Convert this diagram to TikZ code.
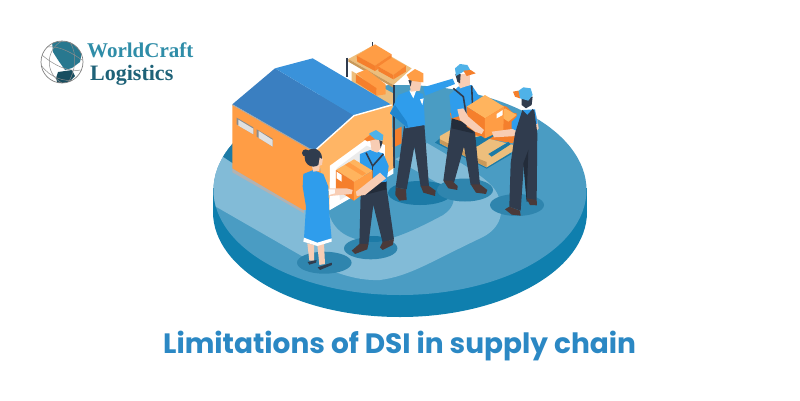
\documentclass[tikz,border=0pt]{standalone}
\usepackage{fontspec}
\newfontfamily\logofont{Liberation Serif}
\newfontfamily\titlefont[BoldFont={* Bold}]{Poppins}
\definecolor{rim}{HTML}{0F7FAE}
\definecolor{surf}{HTML}{4A9CC3}
\definecolor{road}{HTML}{82BBD7}
\definecolor{shad}{HTML}{2F85AE}
\definecolor{shadd}{HTML}{1C7AA6}
\definecolor{oL}{HTML}{FF9D45}
\definecolor{oD}{HTML}{F57F2C}
\definecolor{oT}{HTML}{FFB45E}
\definecolor{oW}{HTML}{FFB565}
\definecolor{roofD}{HTML}{3A7FC1}
\definecolor{roofL}{HTML}{3A92DA}
\definecolor{shirt}{HTML}{2F9DEC}
\definecolor{shirtD}{HTML}{2186CF}
\definecolor{pants}{HTML}{303C4E}
\definecolor{pantsD}{HTML}{232C3A}
\definecolor{skin}{HTML}{F8CDB4}
\definecolor{shoe}{HTML}{4A3A3A}
\definecolor{tan}{HTML}{EDBE7C}
\definecolor{tanD}{HTML}{C9995A}
\definecolor{capb}{HTML}{4FB2E8}
\definecolor{ttl}{HTML}{2B88C4}
\definecolor{logoA}{HTML}{2F8DA8}
\definecolor{logoB}{HTML}{1E6278}
\tikzset{zm/.style 2 args={shift={(#1,#2)},x=0.3333pt,y=-0.3333pt}}
\begin{document}
\begin{tikzpicture}[x=1pt,y=-1pt]
\useasboundingbox (0,0) rectangle (800,400);
\fill[white] (0,0) rectangle (800,400);
% platform
\fill[rim] (400,212) ellipse [x radius=187,y radius=105];
\fill[rim] (213,188) rectangle (587,212);
\fill[surf] (400,190) ellipse [x radius=186.5,y radius=105];
% road
\begin{scope}
\clip (400,190) ellipse [x radius=186.5,y radius=105];
\fill[road] (213,150) -- (213,205) -- (300,255) .. controls (330,272) and (355,281) .. (380,280)
  .. controls (410,276) and (430,262) .. (483,237) .. controls (500,228) and (506,212) .. (497,193)
  .. controls (490,180) and (470,168) .. (427,143) -- (380,120) -- cycle;
\fill[surf] (330,190) -- (328,207) .. controls (329,222) and (340,240) .. (370,241)
  .. controls (385,241) and (400,238) .. (443,215) .. controls (455,207) and (456,197) .. (450,190)
  -- (393,158) -- (370,160) -- cycle;
\fill[surf] (400,100) -- (427,143) -- (393,160) -- (385,130) -- cycle;
\fill[shadd] (213,135) -- (240,135) -- (240,168) -- (222,156) -- cycle;
\end{scope}
% floor shadows
\fill[shad] (324.3,262.7) ellipse [x radius=27.3,y radius=11];
\fill[shad] (370.7,248.3) ellipse [x radius=26.7,y radius=11];
\fill[shadd] (420,193) ellipse [x radius=32,y radius=12];
\fill[shad] (465,190) ellipse [x radius=28,y radius=11.5];
\fill[shad] (517,205) ellipse [x radius=27,y radius=11];
% shelf
\begin{scope}[zm={220}{35}]
\fill[tan] (385,72) -- (458,32) -- (575,100) -- (520,150) -- cycle;
\fill[tanD] (385,72) -- (520,150) -- (520,158) -- (385,80) -- cycle;
\fill[tan] (395,108) -- (520,175) -- (520,240) -- (395,170) -- cycle;
\draw[pants,line width=1.8pt] (380,68) -- (380,125);
\draw[pants,line width=1.5pt] (458,22) -- (458,40);
\fill[oL] (410,115) -- (440,103) -- (497,148) -- (470,165) -- cycle;
\fill[oD] (408,118) -- (470,160) -- (470,182) -- (408,142) -- cycle;
\fill[oL] (470,160) -- (497,148) -- (497,178) -- (470,182) -- cycle;
\fill[oL] (410,62) -- (465,28) -- (515,58) -- (465,92) -- cycle;
\fill[oD] (410,62) -- (465,92) -- (465,108) -- (412,80) -- cycle;
\fill[oD!80!oL] (465,92) -- (515,58) -- (515,75) -- (465,108) -- cycle;
\fill[oL] (475,95) -- (515,68) -- (558,92) -- (520,120) -- cycle;
\fill[oD] (475,95) -- (520,120) -- (520,133) -- (475,108) -- cycle;
\fill[oD!80!oL] (520,120) -- (558,92) -- (558,110) -- (520,133) -- cycle;
\fill[oD] (525,285) -- (545,275) -- (545,325) -- (525,335) -- cycle;
\draw[pants,line width=1.6pt] (522,150) -- (522,400);
% building
\fill[black!30] (37,400) -- (37,412) -- (252,535) -- (252,525) -- cycle;
\fill[oL] (37,210) -- (268,342) -- (290,345) -- (325,525) -- (250,525) -- (37,400) -- cycle;
\fill[oW] (290,342) -- (400,242) -- (515,210) -- (520,402) -- (325,525) -- cycle;
\fill[white] (330,392) -- (440,312) -- (495,330) -- (495,418) -- (520,400) -- (520,416) -- (328,526) -- cycle;
\fill[white!92!black] (350,400) -- (440,332) -- (480,350) -- (480,425) -- (360,495) -- cycle;
\fill[roofD] (37,208) -- (165,100) -- (400,240) -- (290,342) -- (268,340) -- cycle;
\fill[roofL] (165,100) -- (278,70) -- (512,208) -- (400,240) -- cycle;
\draw[white,line width=1.4pt] (290,342) -- (402,242) -- (515,210);
\draw[black!35,line width=.9pt] (37,209) -- (268,341);
\fill[black!45] (50,248) -- (100,277) -- (100,298) -- (50,268) -- cycle;
\fill[white!88!black] (55,254) -- (100,281) -- (100,298) -- (55,272) -- cycle;
\fill[black!45] (110,283) -- (158,311) -- (158,335) -- (110,305) -- cycle;
\fill[white!88!black] (116,288) -- (158,315) -- (158,335) -- (116,309) -- cycle;
\end{scope}
% pallet and boxes, worker 2, 3, 4 (zoom 3 coords)
\begin{scope}[zm={380}{50}]
\fill[shadd] (165,278) -- (320,356) -- (395,312) -- (385,295) -- (320,335) -- (180,265) -- cycle;
\fill[oD] (210,190) -- (300,150) -- (380,170) -- (410,200) -- (400,280) -- (225,250) -- cycle;
\fill[tan] (180,258) -- (215,238) -- (400,285) -- (402,302) -- (320,352) -- (300,342) -- (180,280) -- cycle;
\fill[tanD] (180,268) -- (300,328) -- (320,336) -- (320,352) -- (300,342) -- (180,280) -- cycle;
\fill[shadd] (245,272) -- (335,250) -- (345,256) -- (290,290) -- cycle;
\fill[shadd] (325,312) -- (385,276) -- (392,283) -- (335,320) -- cycle;
\fill[oD] (350,180) -- (410,190) -- (405,275) -- (340,240) -- cycle;
\fill[oT] (375,175) -- (410,195) -- (385,215) -- (355,195) -- cycle;
% worker 3
\fill[pants] (215,210) -- (283,225) -- (300,405) -- (272,405) -- (252,290) -- (222,398) -- (190,392) -- cycle;
\fill[pantsD] (215,205) -- (280,225) -- (280,250) -- (215,235) -- cycle;
\fill[shoe] (190,392) -- (215,392) -- (233,408) -- (232,420) -- (205,415) -- cycle;
\fill[shoe] (272,403) -- (300,403) -- (322,420) -- (318,432) -- (288,428) -- cycle;
\fill[shirt] (208,135) -- (235,110) -- (275,105) -- (298,140) -- (300,170) -- (265,190) -- (215,205) -- cycle;
\draw[pants,line width=1.6pt] (220,115) -- (250,140) -- (258,190);
\draw[pants,line width=1.6pt] (275,107) -- (278,175);
\fill[skin] (226,75) -- (270,70) -- (270,105) -- (240,115) -- cycle;
\fill[pants] (226,72) -- (242,72) -- (240,100) -- (232,95) -- cycle;
\fill[capb] (225,55) -- (240,42) -- (262,45) -- (272,62) -- (250,65) -- (228,78) -- cycle;
\fill[oD] (250,62) -- (272,60) -- (287,70) -- (260,78) -- cycle;
% box 3
\fill[oT] (260,170) -- (315,135) -- (372,170) -- (315,205) -- cycle;
\fill[oD] (260,170) -- (315,205) -- (315,265) -- (260,230) -- cycle;
\fill[oL] (315,205) -- (372,170) -- (370,240) -- (315,265) -- cycle;
\fill[white] (350,192) -- (368,180) -- (368,195) -- (350,205) -- cycle;
\fill[skin] (232,178) -- (250,175) -- (265,200) -- (312,240) -- (305,252) -- (285,245) -- (240,210) -- cycle;
% worker 2
\fill[pants] (72,228) -- (133,222) -- (147,410) -- (122,410) -- (103,290) -- (80,418) -- (47,412) -- cycle;
\fill[shoe] (47,412) -- (78,418) -- (80,450) -- (58,452) -- (46,435) -- cycle;
\fill[shoe] (122,408) -- (147,408) -- (167,422) -- (165,438) -- (130,428) -- cycle;
\fill[shirt] (130,112) -- (218,86) -- (225,102) -- (135,137) -- cycle;
\fill[shirt] (30,190) -- (55,135) -- (90,122) -- (130,132) -- (135,225) -- (75,235) -- (72,218) -- cycle;
\fill[shirtD] (30,190) -- (45,165) -- (80,215) -- (85,235) -- cycle;
\fill[white] (88,122) -- (110,118) -- (100,145) -- cycle;
\fill[white] (120,148) -- (131,145) -- (127,165) -- cycle;
\fill[skin] (88,92) -- (125,92) -- (120,122) -- (92,125) -- cycle;
\fill[oL] (80,75) -- (105,57) -- (130,70) -- (130,97) -- (90,92) -- cycle;
\fill[pants] (85,90) -- (95,92) -- (92,110) -- cycle;
% worker 4
\fill[skin] (335,245) -- (412,235) -- (410,258) -- (342,262) -- cycle;
\fill[skin] (470,195) -- (476,235) -- (468,245) -- (462,220) -- cycle;
\fill[shirt] (395,215) -- (430,180) -- (465,178) -- (473,220) -- (420,248) -- (395,235) -- cycle;
\fill[pants] (427,180) -- (442,195) -- (458,177) -- (463,182) -- (472,250) -- (470,450) -- (440,455) -- (432,340) -- (422,482) -- (388,470) -- (392,340) -- (405,250) -- cycle;
\fill[pantsD] (430,340) -- (445,300) -- (440,455) -- cycle;
\fill[shoe] (388,470) -- (420,482) -- (422,497) -- (395,494) -- (375,478) -- cycle;
\fill[shoe] (440,445) -- (470,450) -- (471,466) -- (450,465) -- cycle;
\fill[pants] (425,140) -- (458,140) -- (455,165) -- (438,175) -- (425,165) -- cycle;
\fill[capb] (412,125) -- (430,112) -- (452,115) -- (458,135) -- (445,152) -- (420,145) -- cycle;
\fill[oD] (399,125) -- (415,122) -- (420,145) -- (405,140) -- cycle;
\end{scope}
% worker 1 and woman (zoom 4 coords)
\begin{scope}[zm={280}{130}]
\fill[shadd] (282,327) ellipse [x radius=33,y radius=9];
\fill[pants] (242,190) -- (320,175) -- (342,328) -- (308,338) -- (280,225) -- (265,345) -- (238,345) -- cycle;
\fill[shoe] (238,342) -- (265,342) -- (262,358) -- (225,372) -- (215,362) -- cycle;
\fill[shoe] (308,336) -- (342,328) -- (338,345) -- (308,360) -- (300,352) -- cycle;
\fill[pantsD] (245,160) -- (320,150) -- (320,178) -- (242,198) -- cycle;
\fill[shirt] (240,72) -- (270,60) -- (310,70) -- (326,108) -- (320,155) -- (290,158) -- (262,160) -- (240,120) -- cycle;
\draw[pants,line width=1.6pt] (258,68) -- (278,108) -- (310,72);
\draw[pants,line width=1.6pt] (278,108) -- (278,150);
\fill[skin] (270,30) -- (305,30) -- (302,55) -- (292,68) -- (275,62) -- cycle;
\fill[pants] (298,30) -- (308,35) -- (302,55) -- cycle;
\fill[capb] (268,10) -- (288,0) -- (310,15) -- (308,32) -- (270,25) -- cycle;
\fill[oD] (252,28) -- (270,15) -- (285,28) -- (262,34) -- cycle;
% box
\fill[oT] (168,120) -- (222,88) -- (278,122) -- (222,155) -- cycle;
\fill[oD] (168,120) -- (222,155) -- (222,212) -- (168,178) -- cycle;
\fill[oL] (222,155) -- (278,122) -- (278,170) -- (222,212) -- cycle;
\fill[white] (170,125) -- (185,135) -- (185,155) -- (170,145) -- cycle;
\fill[oL] (195,105) -- (207,97) -- (258,130) -- (247,137) -- cycle;
\fill[skin] (300,128) -- (318,145) -- (255,195) -- (230,198) -- (228,185) -- (245,172) -- cycle;
% woman
\fill[skin] (82,340) -- (102,345) -- (102,392) -- (88,392) -- cycle;
\fill[skin] (112,345) -- (132,340) -- (135,402) -- (118,405) -- cycle;
\fill[pants] (83,396) -- (110,390) -- (108,398) -- (88,404) -- cycle;
\fill[pants] (113,412) -- (155,398) -- (156,405) -- (120,420) -- cycle;
\fill[skin] (145,175) -- (200,175) -- (218,180) -- (215,192) -- (150,198) -- cycle;
\fill[white!90!skin] (145,178) -- (165,178) -- (165,190) -- (147,195) -- cycle;
\fill[shirt] (70,132) -- (100,120) -- (130,132) -- (145,170) -- (148,250) -- (155,328) -- (112,342) -- (72,325) -- (78,230) -- (68,170) -- cycle;
\fill[white] (72,323) -- (112,338) -- (155,325) -- (155,335) -- (112,348) -- (70,335) -- cycle;
\fill[skin] (95,105) -- (120,100) -- (118,122) -- (100,125) -- cycle;
\fill[skin] (115,85) -- (128,85) -- (126,105) -- (112,108) -- cycle;
\fill[pants] (100,83) ellipse [x radius=26,y radius=27];
\fill[pants] (77,69) circle [radius=11];
\fill[skin] (119,83) -- (128,88) -- (125,104) -- (115,108) -- cycle;
\end{scope}
% logo
\fill[white] (62,62) circle [radius=21];
\begin{scope}
\clip (62,62) circle [radius=21];
\fill[logoA!85!black] (52,42) -- (70,41) -- (82,52) -- (80,62) -- (72,68) -- (65,70) -- (58,60) -- (53,52) -- cycle;
\fill[logoB!80!black] (58,72) -- (72,70) -- (75,76) -- (67,84) -- (58,85) -- (56,78) -- cycle;
\draw[black!45,line width=.5pt] (62,41) .. controls (45,50) and (45,74) .. (62,83);
\draw[black!45,line width=.5pt] (42,55) .. controls (55,66) and (68,72) .. (82,70);
\draw[black!45,line width=.5pt] (47,47) .. controls (60,45) and (75,55) .. (82,60);
\draw[black!45,line width=.5pt] (41,65) .. controls (50,78) and (65,82) .. (75,80);
\draw[black!45,line width=.5pt] (70,42) .. controls (78,55) and (75,72) .. (68,83);
\end{scope}
\draw[black!50,line width=.7pt] (62,62) circle [radius=21];
% texts
\node[anchor=base west,inner sep=0pt,text=logoA] (logoa) at (87,57) {\logofont\bfseries\fontsize{21}{21}\selectfont WorldCraft};
\node[anchor=base west,inner sep=0pt,text=logoB] (logob) at (90,80) {\logofont\bfseries\fontsize{22}{22}\selectfont Logistics};
\node[anchor=base west,inner sep=0pt,text=ttl] (title) at (163,353) {\titlefont\bfseries\fontsize{28}{28}\selectfont Limitations of DSI in supply chain};
\end{tikzpicture}
\end{document}
